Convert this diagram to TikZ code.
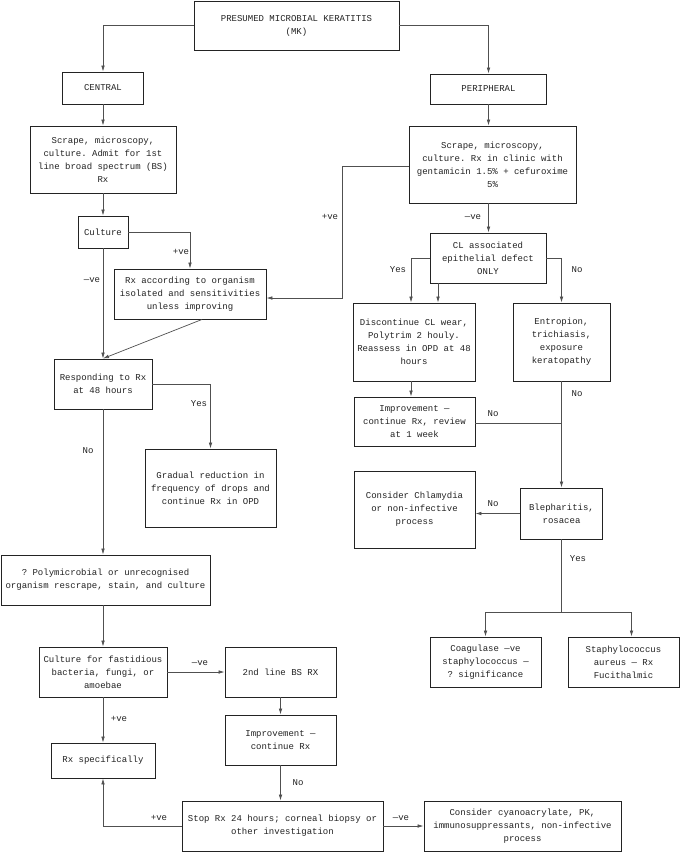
\documentclass[tikz,border=0pt]{standalone}
\usepackage{fontspec}
\setmonofont{Liberation Mono}
\usepackage{tikz}
\usetikzlibrary{arrows.meta, positioning, calc}
\definecolor{myline}{RGB}{80,80,80}
\definecolor{mybox}{RGB}{35,35,35}
\tikzset{
  box/.style={rectangle, draw=mybox, line width=0.9pt, align=center,
    inner sep=1pt, text=mybox, font=\fontsize{9}{13}\selectfont\ttfamily},
  arrow/.style={-{Latex[length=6pt,width=3.6pt]}, line width=0.7pt, color=myline},
  line/.style={draw, line width=0.7pt, color=myline},
  lbl/.style={inner sep=1pt, text=mybox, font=\fontsize{9}{11}\selectfont\ttfamily}
}

\begin{document}
\begin{tikzpicture}[x=1pt, y=-1pt]
  \fill[white] (0,0) rectangle (680,852);
  \useasboundingbox (0,0) rectangle (680,852);

  % Top of the chart
  \node[box, minimum width=205, minimum height=49] (mk) at (296.5,25.5) {PRESUMED MICROBIAL KERATITIS\\(MK)};
  \node[box, minimum width=81, minimum height=32] (central) at (103,88) {CENTRAL};
  \node[box, minimum width=116, minimum height=30] (periph) at (488.5,89) {PERIPHERAL};

  % Central branch
  \node[box, minimum width=146, minimum height=67] (scrapec) at (103,159.5) {Scrape, microscopy,\\culture. Admit for 1st\\line broad spectrum (BS)\\Rx};
  \node[box, minimum width=50, minimum height=32] (culture) at (103,232) {Culture};
  \node[box, minimum width=152, minimum height=50] (rxorg) at (190,294) {Rx according to organism\\isolated and sensitivities\\unless improving};
  \node[box, minimum width=98, minimum height=50] (resp) at (103,384) {Responding to Rx\\at 48 hours};
  \node[box, minimum width=131, minimum height=78] (gradual) at (210.5,488) {Gradual reduction in\\frequency of drops and\\continue Rx in OPD};
  \node[box, minimum width=209, minimum height=50] (poly) at (105.5,580) {? Polymicrobial or unrecognised\\organism rescrape, stain, and culture};
  \node[box, minimum width=128, minimum height=50] (fast) at (103,672) {Culture for fastidious\\bacteria, fungi, or\\amoebae};
  \node[box, minimum width=111, minimum height=50] (bs2) at (280.5,672) {2nd line BS RX};
  \node[box, minimum width=104, minimum height=35] (rxspec) at (103,760.5) {Rx specifically};
  \node[box, minimum width=111, minimum height=50] (impl) at (280.5,740) {Improvement —\\continue Rx};
  \node[box, minimum width=201, minimum height=50] (stop) at (282.5,826) {Stop Rx 24 hours; corneal biopsy or\\other investigation};
  \node[box, minimum width=197, minimum height=50] (cyano) at (522.5,826) {Consider cyanoacrylate, PK,\\immunosuppressants, non-infective\\process};

  % Peripheral branch
  \node[box, minimum width=167, minimum height=77] (scrapep) at (492.5,164.5) {Scrape, microscopy,\\culture. Rx in clinic with\\gentamicin 1.5\% + cefuroxime\\5\%};
  \node[box, minimum width=116, minimum height=50] (cl) at (488,258) {CL associated\\epithelial defect\\ONLY};
  \node[box, minimum width=122, minimum height=78] (disc) at (414,342) {Discontinue CL wear,\\Polytrim 2 houly.\\Reassess in OPD at 48\\hours};
  \node[box, minimum width=97, minimum height=78] (entro) at (561.5,342) {Entropion,\\trichiasis,\\exposure\\keratopathy};
  \node[box, minimum width=121, minimum height=49] (impr) at (414.5,421.5) {Improvement —\\continue Rx, review\\at 1 week};
  \node[box, minimum width=121, minimum height=77] (chlam) at (414.5,509.5) {Consider Chlamydia\\or non-infective\\process};
  \node[box, minimum width=82, minimum height=51] (bleph) at (561.5,513.5) {Blepharitis,\\rosacea};
  \node[box, minimum width=111, minimum height=50] (coag) at (485.5,662) {Coagulase —ve\\staphylococcus —\\? significance};
  \node[box, minimum width=111, minimum height=50] (staph) at (623.5,662) {Staphylococcus\\aureus — Rx\\Fucithalmic};

  % Connectors, central side
  \draw[arrow] (mk.west) -| (central.north);
  \draw[arrow] (mk.east) -| (periph.north);
  \draw[arrow] (central.south) -- (scrapec.north);
  \draw[arrow] (scrapec.south) -- (culture.north);
  \draw[arrow] (culture.east) -| (rxorg.north);
  \draw[arrow] (culture.south) -- (resp.north);
  \draw[arrow] ([xshift=12pt]rxorg.south) -- (resp.north);
  \draw[arrow] (resp.east) -| (gradual.north);
  \draw[arrow] (resp.south) -- (resp.south |- poly.north);
  \draw[arrow] (resp.south |- poly.south) -- (fast.north);
  \draw[arrow] (fast.east) -- (bs2.west);
  \draw[arrow] (fast.south) -- (rxspec.north);
  \draw[arrow] (bs2.south) -- (impl.north);
  \draw[arrow] (impl.south) -- (impl.south |- stop.north);
  \draw[arrow] (stop.west) -| (rxspec.south);
  \draw[arrow] (stop.east) -- (cyano.west);

  % Connectors, peripheral side
  \draw[arrow] (periph.south) -- (periph.south |- scrapep.north);
  \draw[arrow] ([yshift=-2pt]scrapep.west) -- ++(-66,0) |- ([yshift=-4pt]rxorg.east);
  \draw[arrow] (periph.south |- scrapep.south) -- (periph.south |- cl.north);
  \draw[arrow] (cl.west) -| ([xshift=-3pt]disc.north);
  \draw[arrow] ([xshift=-50pt]cl.south) -- ([xshift=-50pt]cl.south |- disc.north);
  \draw[arrow] (cl.east) -| (entro.north);
  \draw[arrow] ([xshift=-3pt]disc.south) -- ([xshift=-3pt]disc.south |- impr.north);
  \draw[arrow] (entro.south) -- (bleph.north);
  \draw[line] ([yshift=-1.5pt]impr.east) -- ([yshift=-1.5pt]impr.east -| entro.south);
  \draw[arrow] (bleph.west) -- (bleph.west -| chlam.east);
  \coordinate (split) at ($(bleph.south)+(0,72.5)$);
  \draw[line] (bleph.south) -- (split);
  \draw[arrow] (split) -| (coag.north);
  \draw[arrow] (split) -| ([xshift=8pt]staph.north);

  % Connector labels
  \node[lbl] (lcpos) at (181,252) {+ve};
  \node[lbl] (lcneg) at (92,280) {—ve};
  \node[lbl] (lppos) at (330,217) {+ve};
  \node[lbl] (lpneg) at (473,217) {—ve};
  \node[lbl] (lclyes) at (398,270) {Yes};
  \node[lbl] (lclno) at (577,270) {No};
  \node[lbl] (lentno) at (577,394) {No};
  \node[lbl] (limpno) at (493,414) {No};
  \node[lbl] (lblno) at (493,504) {No};
  \node[lbl] (lblyes) at (578,559) {Yes};
  \node[lbl] (lresyes) at (199,404) {Yes};
  \node[lbl] (lresno) at (88,451) {No};
  \node[lbl] (lfneg) at (200,663) {—ve};
  \node[lbl] (lfpos) at (119,719) {+ve};
  \node[lbl] (limno) at (298,783) {No};
  \node[lbl] (lspos) at (159,818) {+ve};
  \node[lbl] (lsneg) at (401,818) {—ve};
\end{tikzpicture}
\end{document}
